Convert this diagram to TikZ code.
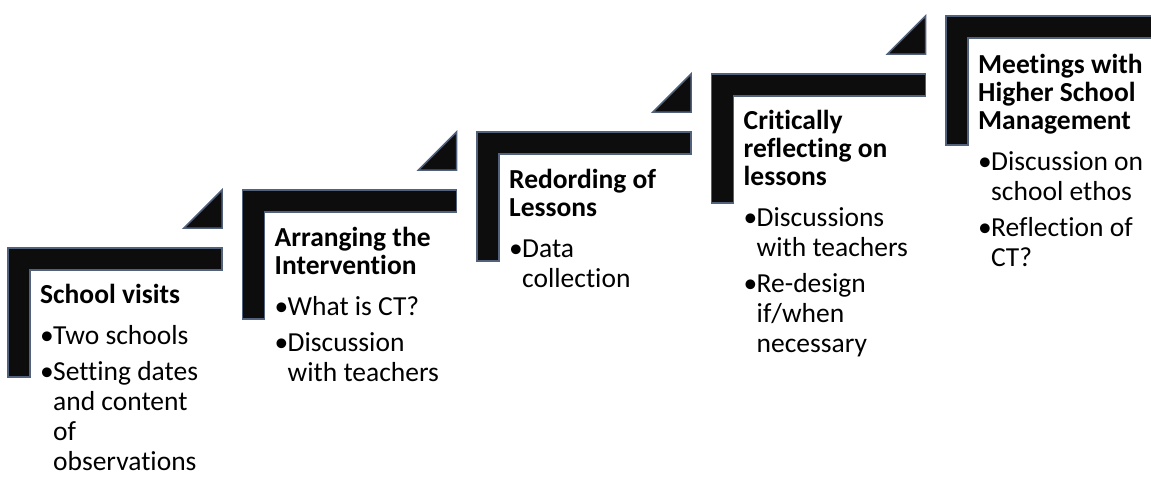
\documentclass[tikz,border=0pt]{standalone}
\usepackage{fontspec}
\setmainfont{Carlito}[Ligatures=NoCommon]
\usepackage{tikz}
\definecolor{barline}{RGB}{82,97,124}
\definecolor{barfill}{RGB}{13,13,13}

\newcommand{\steptitle}[1]{{\bfseries\fontsize{27.5}{28}\selectfont #1\par}\vspace{5pt}}
\newcommand{\stepitem}[1]{\par\vspace{6pt}\hangindent=13pt\hangafter=1\noindent\makebox[13pt][l]{\textbullet}#1}
\newcommand{\steplist}[1]{\parbox[t]{210pt}{\fontsize{27.5}{30}\selectfont #1}}

\begin{document}
\begin{tikzpicture}[x=1pt,y=-1pt,
  stepbar/.style={draw=barline,fill=barfill,line width=1.5pt,line join=miter},
  steptext/.style={inner sep=0pt,anchor=base west}]
  \useasboundingbox (0,0) rectangle (1151,477);
  \foreach \i in {0,...,4} {
    \pgfmathsetmacro\x{8+234.5*\i}
    \pgfmathsetmacro\y{248-58*\i}
    \draw[stepbar] (\x,\y) -- ++(214,0) -- ++(0,22) -- ++(-192,0)
      -- ++(0,107) -- ++(-22,0) -- cycle;
    \ifnum\i<4
      \draw[stepbar] (\x+214,\y-20) -- ++(0,-38) -- ++(-38,38) -- cycle;
    \fi
  }
  \node[steptext] (visits) at (40,303) {\steplist{\steptitle{School visits}
    \stepitem{Two schools}
    \stepitem{Setting dates\\and content\\of\\observations}}};
  \node[steptext] (arrange) at (274.5,246) {\steplist{\steptitle{Arranging the\\Intervention}
    \stepitem{What is CT?}
    \stepitem{Discussion\\with teachers}}};
  \node[steptext] (record) at (509,188) {\steplist{\steptitle{Redording of\\Lessons}
    \stepitem{Data\\collection}}};
  \node[steptext] (reflect) at (743.5,129) {\steplist{\steptitle{Critically\\reflecting on\\lessons}
    \stepitem{Discussions\\with teachers}
    \stepitem{Re-design\\if/when\\necessary}}};
  \node[steptext] (meet) at (978,73) {\steplist{\steptitle{Meetings with\\Higher School\\Management}
    \stepitem{Discussion on\\school ethos}
    \stepitem{Reflection of\\CT?}}};
\end{tikzpicture}
\end{document}
